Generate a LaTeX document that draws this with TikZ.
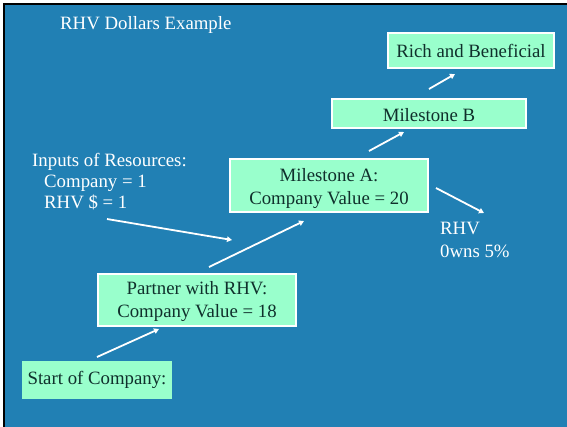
\documentclass[tikz,border=0pt]{standalone}
\usepackage{fontspec}
\setmainfont{Liberation Serif}
\usetikzlibrary{arrows.meta}
\definecolor{slidebg}{HTML}{2180B4}
\definecolor{boxfill}{HTML}{99FFCC}
\definecolor{boxtext}{HTML}{10302C}
\begin{document}
\begin{tikzpicture}[x=1pt,y=-1pt,
  every node/.style={font=\fontsize{18.8}{22.5}\selectfont},
  stagebox/.style={draw=white,line width=2pt,fill=boxfill,text=boxtext,align=center,inner sep=0pt},
  boxlabel/.style={text=boxtext,align=center,inner sep=0pt},
  plainbox/.style={fill=boxfill,text=boxtext,inner sep=0pt},
  lighttext/.style={text=white,anchor=base west,inner sep=0pt,align=left},
  flow/.style={draw=white,line width=1.8pt,-{Triangle[length=5pt,width=5.5pt]}}]
\useasboundingbox (0,0) rectangle (567,426);
\fill[white] (0,0) rectangle (567,426);
\fill[black] (3,3) rectangle (572,431);
\fill[slidebg] (5,5) rectangle (572,431);
% title
\node[lighttext] (title) at (60,29) {RHV Dollars Example};
% boxes
\node[stagebox,minimum width=166pt,minimum height=35pt] (rich) at (471,50.5) {Rich and Beneficial};
\node[stagebox,minimum width=194pt,minimum height=29pt] (msb) at (429,113.5) {};
\node[boxlabel] (msbtext) at (429,115) {Milestone B};
\node[stagebox,minimum width=198pt,minimum height=53pt] (msa) at (329,185.5) {};
\node[boxlabel] (msatext) at (329,188.5) {Milestone A:\\Company Value = 20};
\node[stagebox,minimum width=198pt,minimum height=52pt] (partner) at (197,300) {};
\node[boxlabel] (partnertext) at (197,301.5) {Partner with RHV:\\Company Value = 18};
\node[plainbox,minimum width=150pt,minimum height=38pt] (start) at (97,380) {Start of Company:};
% side texts
\node[lighttext] (inputs) at (32,166) {Inputs of Resources:};
\node[lighttext] (inco) at (44,187) {Company = 1};
\node[lighttext] (inrhv) at (44,208) {RHV \$ = 1};
\node[lighttext] (rhv) at (440,234) {RHV};
\node[lighttext] (owns) at (440,257) {0wns 5\%};
% arrow end points
\coordinate (a1s) at (97,357);  \coordinate (a1e) at (159,329);
\coordinate (a2s) at (209,267); \coordinate (a2e) at (304,221);
\coordinate (a3s) at (107,219); \coordinate (a3e) at (232,240);
\coordinate (a4s) at (369,151); \coordinate (a4e) at (404,132);
\coordinate (a5s) at (429,89);  \coordinate (a5e) at (455,74);
\coordinate (a6s) at (436,188); \coordinate (a6e) at (484,213);
\draw[flow] (a1s) -- (a1e);
\draw[flow] (a2s) -- (a2e);
\draw[flow] (a3s) -- (a3e);
\draw[flow] (a4s) -- (a4e);
\draw[flow] (a5s) -- (a5e);
\draw[flow] (a6s) -- (a6e);
\end{tikzpicture}
\end{document}
